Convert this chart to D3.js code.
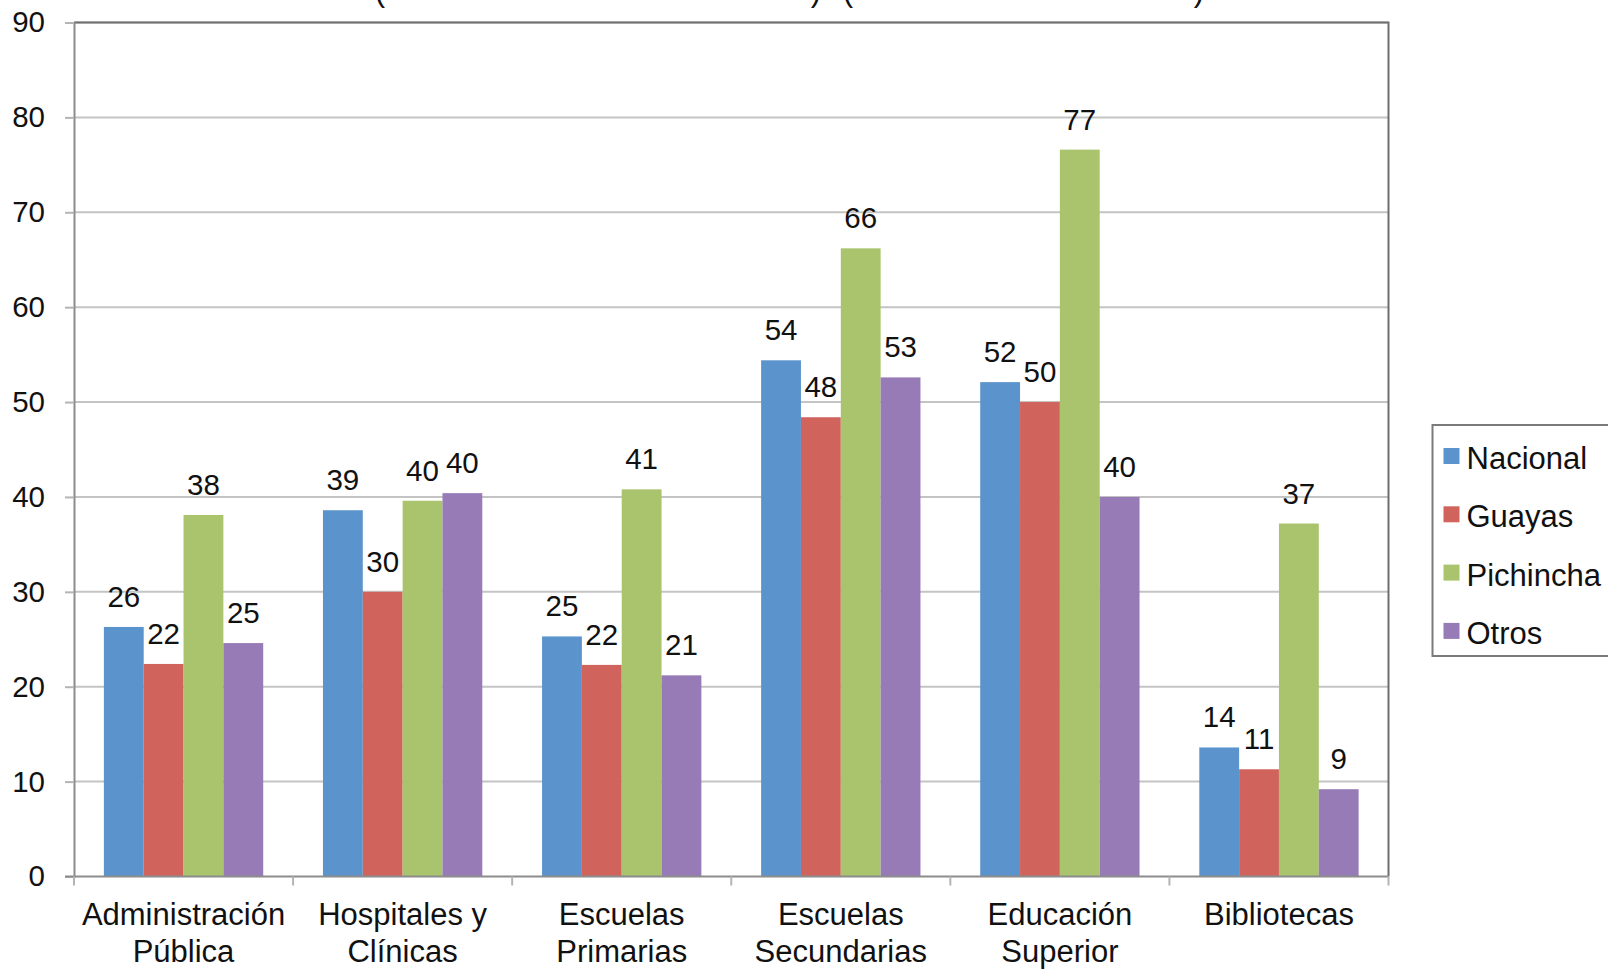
<!DOCTYPE html>
<html>
<head>
<meta charset="utf-8">
<script src="https://cdn.jsdelivr.net/npm/d3@7"></script>
<style>
  html, body { margin: 0; padding: 0; background: #ffffff; }
  svg { display: block; font-family: "Liberation Sans", Arial, Helvetica, sans-serif; }
</style>
</head>
<body>
<svg id="chart" width="1608" height="970"></svg>
<script>
// Categories (each split into the lines shown under the axis)
const categories = [
  ["Administración", "Pública"],
  ["Hospitales y", "Clínicas"],
  ["Escuelas", "Primarias"],
  ["Escuelas", "Secundarias"],
  ["Educación", "Superior"],
  ["Bibliotecas"]
];
const seriesNames = ["Nacional", "Guayas", "Pichincha", "Otros"];
const seriesColors = ["#5b94cc", "#d0645c", "#a9c46c", "#977bb6"];

// Percentages per category
const nacional  = [26.3, 38.6, 25.3, 54.4, 52.1, 13.6];
const guayas    = [22.4, 30.0, 22.3, 48.4, 50.0, 11.3];
const pichincha = [38.1, 39.6, 40.8, 66.2, 76.6, 37.2];
const otros     = [24.6, 40.4, 21.2, 52.6, 40.0, 9.2];

const yTicks = [0, 10, 20, 30, 40, 50, 60, 70, 80, 90];

const seriesValues = [nacional, guayas, pichincha, otros];

const svg = d3.select("#chart");

const plot = { left: 74, right: 1388.5, top: 22.5, bottom: 876.5 };

const x0 = d3.scaleBand()
  .domain(d3.range(categories.length))
  .range([plot.left, plot.right])
  .paddingInner(0)
  .paddingOuter(0);

const x1 = d3.scaleBand()
  .domain(d3.range(seriesNames.length))
  .range([0, x0.bandwidth()])
  .paddingInner(0)
  .paddingOuter(0.75);

const y = d3.scaleLinear()
  .domain([0, 90])
  .range([plot.bottom, plot.top]);

// Horizontal gridlines
svg.append("g")
  .selectAll("line")
  .data(yTicks.filter(d => d > 0))
  .join("line")
  .attr("x1", plot.left)
  .attr("x2", plot.right)
  .attr("y1", d => y(d))
  .attr("y2", d => y(d))
  .attr("stroke", "#c4c4c4")
  .attr("stroke-width", 2);

// Plot area frame (top and right edges)
svg.append("path")
  .attr("d", `M${plot.left},${plot.top}H${plot.right}V${plot.bottom}`)
  .attr("fill", "none")
  .attr("stroke", "#6e6e6e")
  .attr("stroke-width", 2);

// Bars
const groups = svg.append("g")
  .selectAll("g")
  .data(categories.map((c, i) => i))
  .join("g")
  .attr("transform", i => `translate(${x0(i)},0)`);

groups.selectAll("rect")
  .data(i => seriesValues.map((vals, s) => ({ s, v: vals[i] })))
  .join("rect")
  .attr("x", d => x1(d.s))
  .attr("width", x1.bandwidth())
  .attr("y", d => y(d.v))
  .attr("height", d => y(0) - y(d.v))
  .attr("fill", d => seriesColors[d.s]);

// Value labels above each bar
groups.selectAll("text")
  .data(i => seriesValues.map((vals, s) => ({ s, v: vals[i] })))
  .join("text")
  .attr("x", d => x1(d.s) + x1.bandwidth() / 2)
  .attr("y", d => y(d.v) - 20)
  .attr("text-anchor", "middle")
  .attr("font-size", 29.5)
  .attr("fill", "#111")
  .text(d => Math.round(d.v));

// Y axis
const yAxis = svg.append("g")
  .attr("transform", `translate(${plot.left},0)`)
  .call(d3.axisLeft(y).tickValues(yTicks).tickSize(9).tickPadding(20).tickFormat(d3.format("d")));
yAxis.select(".domain").attr("stroke", "#8c8c8c").attr("stroke-width", 2);
yAxis.selectAll(".tick line").attr("stroke", "#b4b4b4").attr("stroke-width", 2);
yAxis.selectAll(".tick text")
  .attr("font-size", 29.5)
  .attr("fill", "#111")
  .attr("font-family", "'Liberation Sans', Arial, sans-serif");

// X axis line with category boundary ticks
svg.append("line")
  .attr("x1", plot.left - 9).attr("x2", plot.right)
  .attr("y1", plot.bottom).attr("y2", plot.bottom)
  .attr("stroke", "#8c8c8c").attr("stroke-width", 2);

svg.append("g")
  .selectAll("line")
  .data(d3.range(categories.length + 1))
  .join("line")
  .attr("x1", i => plot.left + i * x0.step())
  .attr("x2", i => plot.left + i * x0.step())
  .attr("y1", plot.bottom)
  .attr("y2", plot.bottom + 9)
  .attr("stroke", "#b4b4b4")
  .attr("stroke-width", 2);

// Category labels
const catLabels = svg.append("g")
  .selectAll("text")
  .data(categories)
  .join("text")
  .attr("x", (d, i) => x0(i) + x0.bandwidth() / 2)
  .attr("y", 925)
  .attr("text-anchor", "middle")
  .attr("font-size", 31)
  .attr("fill", "#111");
catLabels.selectAll("tspan")
  .data(d => d)
  .join("tspan")
  .attr("x", function () { return this.parentNode.getAttribute("x"); })
  .attr("dy", (d, j) => j === 0 ? 0 : 37)
  .text(d => d);

// Title line, almost entirely above the visible area
svg.append("g")
  .selectAll("text")
  .data([{ t: "(", x: 380 }, { t: ")", x: 816 }, { t: "(", x: 848 }, { t: ")", x: 1199 }])
  .join("text")
  .attr("x", d => d.x)
  .attr("y", 1)
  .attr("text-anchor", "middle")
  .attr("font-size", 31)
  .attr("fill", "#111")
  .text(d => d.t);

// Legend
const legend = svg.append("g").attr("transform", "translate(1432.5,425)");
legend.append("rect")
  .attr("x", 0).attr("y", 0)
  .attr("width", 220).attr("height", 231)
  .attr("fill", "#fff")
  .attr("stroke", "#7a7a7a")
  .attr("stroke-width", 2);
const items = legend.selectAll("g.item")
  .data(seriesNames)
  .join("g")
  .attr("class", "item")
  .attr("transform", (d, i) => `translate(0,${33 + i * 58.3})`);
items.append("rect")
  .attr("x", 11).attr("y", -10)
  .attr("width", 16).attr("height", 16)
  .attr("fill", (d, i) => seriesColors[i]);
items.append("text")
  .attr("x", 34)
  .attr("y", 11)
  .attr("font-size", 31)
  .attr("fill", "#111")
  .text(d => d);
</script>
</body>
</html>
